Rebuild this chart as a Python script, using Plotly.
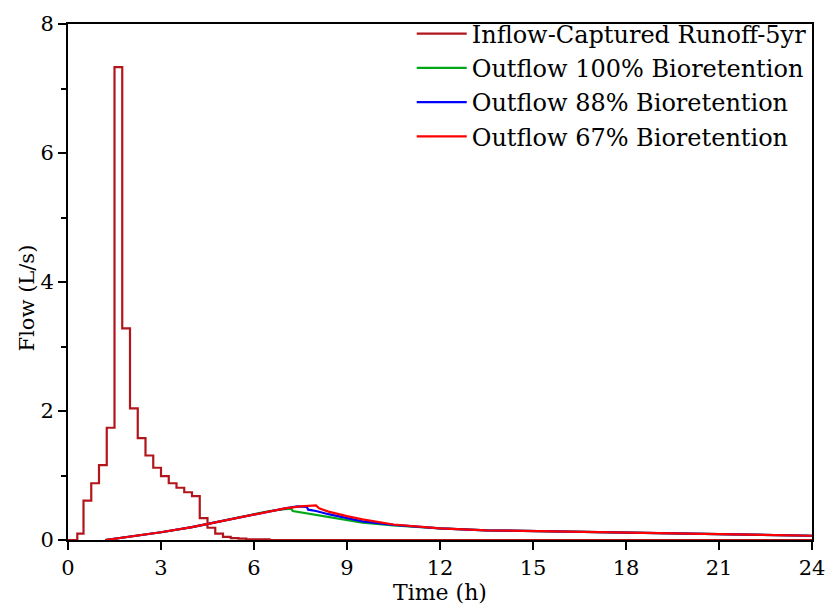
import plotly.graph_objects as go

# Inflow hydrograph (15-min steps), L/s
inflow_t = [0, 0.3, 0.5, 0.75, 1.0, 1.25, 1.5, 1.75, 2.0, 2.25, 2.5, 2.75, 3.0,
            3.25, 3.5, 3.75, 4.0, 4.25, 4.5, 4.75, 5.0, 5.25, 5.5, 5.75, 6.5, 24]
inflow_q = [0, 0.1, 0.61, 0.88, 1.16, 1.74, 7.33, 3.28, 2.04, 1.58, 1.31, 1.12, 0.99,
            0.88, 0.81, 0.74, 0.68, 0.34, 0.19, 0.10, 0.05, 0.03, 0.02, 0.01, 0, 0]

# Shared rising limb of the outflow hydrographs
rise_t = [1.2, 2.0, 3.0, 4.0, 5.0, 6.0, 6.5]
rise_q = [0.0, 0.05, 0.12, 0.20, 0.30, 0.40, 0.45]

# Shared recession tail
tail_t = [12.0, 13.5, 15.0, 18.0, 21.0, 24.0]
tail_q = [0.18, 0.15, 0.14, 0.12, 0.09, 0.066]

out100_t = [7.0, 7.2, 7.25, 7.5, 8.0, 8.5, 9.0, 9.5, 10.5]
out100_q = [0.48, 0.485, 0.45, 0.43, 0.385, 0.35, 0.31, 0.27, 0.225]

out88_t = [7.0, 7.4, 7.7, 7.75, 8.0, 8.4, 9.0, 9.5, 10.5]
out88_q = [0.49, 0.52, 0.515, 0.47, 0.45, 0.40, 0.34, 0.29, 0.235]

out67_t = [7.0, 7.5, 8.0, 8.1, 8.4, 9.0, 9.5, 10.5]
out67_q = [0.49, 0.52, 0.535, 0.49, 0.44, 0.37, 0.32, 0.24]

names = ["Inflow-Captured Runoff-5yr", "Outflow 100% Bioretention",
         "Outflow 88% Bioretention", "Outflow 67% Bioretention"]
colors = ["#b3151c", "#00a818", "#0000ff", "#ff0000"]

FONT = "DejaVu Serif"

fig = go.Figure()
fig.add_trace(go.Scatter(x=inflow_t, y=inflow_q, mode="lines", name=names[0],
                         line=dict(color=colors[0], width=2.2, shape="hv")))
for name, col, t, q in [(names[1], colors[1], out100_t, out100_q),
                        (names[2], colors[2], out88_t, out88_q),
                        (names[3], colors[3], out67_t, out67_q)]:
    fig.add_trace(go.Scatter(x=rise_t + t + tail_t, y=rise_q + q + tail_q,
                             mode="lines", name=name,
                             line=dict(color=col, width=2.2)))

fig.update_layout(
    width=825, height=611,
    margin=dict(l=68, r=13, t=12, b=71),
    paper_bgcolor="white", plot_bgcolor="white",
    font=dict(family=FONT, size=21, color="black"),
    showlegend=True,
    legend=dict(x=0.462, y=1.024, xanchor="left", yanchor="top",
                bgcolor="rgba(0,0,0,0)", borderwidth=0,
                font=dict(family=FONT, size=24), itemwidth=50,
                tracegroupgap=0),
    annotations=[dict(text="Flow (L/s)", textangle=-90, xref="paper", yref="paper",
                      x=-0.035, y=0.47, xanchor="right", yanchor="middle",
                      showarrow=False, font=dict(family=FONT, size=21))],
)
fig.update_xaxes(
    range=[0, 24], tickvals=[0, 3, 6, 9, 12, 15, 18, 21, 24],
    showline=True, linecolor="black", linewidth=2, mirror=True,
    ticks="outside", ticklen=8, tickwidth=2, tickcolor="black",
    ticklabeloverflow="allow", automargin=False,
    showgrid=False, zeroline=False,
    title=dict(text="Time (h)", standoff=2, font=dict(family=FONT, size=22)),
    tickfont=dict(family=FONT, size=21),
)
fig.update_yaxes(
    range=[0, 8], tickvals=[0, 2, 4, 6, 8],
    showline=True, linecolor="black", linewidth=2, mirror=True,
    ticks="outside", ticklen=8, tickwidth=2, tickcolor="black",
    minor=dict(tickvals=[1, 3, 5, 7], ticks="outside", ticklen=5,
               tickwidth=2, tickcolor="black"),
    automargin=False,
    showgrid=False, zeroline=False,
    tickfont=dict(family=FONT, size=21),
)

fig.write_html("out.html")
